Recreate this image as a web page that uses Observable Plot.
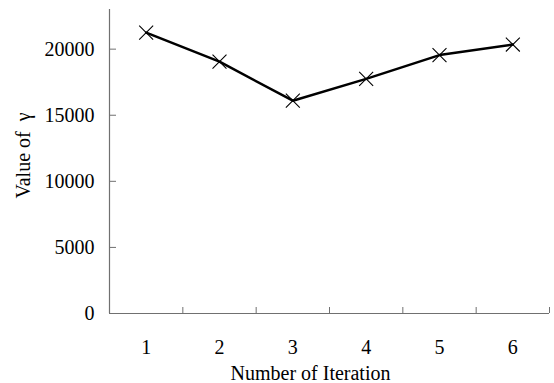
<!DOCTYPE html>
<html>
<head>
<meta charset="utf-8">
<script src="https://cdn.jsdelivr.net/npm/d3@7"></script>
<script src="https://cdn.jsdelivr.net/npm/@observablehq/plot@0.6"></script>
<style>
  html, body { margin: 0; padding: 0; background: #fff; }
  #chart svg { display: block; }
</style>
</head>
<body>
<div id="chart"></div>
<script>
const iterations = [1, 2, 3, 4, 5, 6];
const gammaValues = [21250, 19050, 16100, 17750, 19550, 20350];
const yTicks = [0, 5000, 10000, 15000, 20000];
const xBoundaries = [1.5, 2.5, 3.5, 4.5, 5.5, 6.5];
const xLabel = "Number of Iteration";
const yLabel = "Value of\u00a0\u00a0γ";

const data = iterations.map((it, i) => ({it, v: gammaValues[i]}));
const axisColor = "#707070";
const fs = 20;

const chart = Plot.plot({
  width: 554,
  height: 383,
  marginLeft: 109,
  marginRight: 5,
  marginTop: 9,
  marginBottom: 70,
  style: {fontFamily: "'Liberation Serif', 'Times New Roman', serif", fontSize: fs + "px", color: "#000", background: "#fff"},
  x: {type: "linear", domain: [0.5, 6.5], axis: null},
  y: {domain: [0, 23000], axis: null},
  marks: [
    // axis lines
    Plot.ruleY([0], {stroke: axisColor, strokeWidth: 1.2}),
    Plot.ruleX([0.5], {y1: 0, y2: 23000, stroke: axisColor, strokeWidth: 1.2}),
    // x boundary ticks (inward)
    Plot.axisX({ticks: xBoundaries, tickSize: 6, dy: -6, text: null, label: null, stroke: axisColor}),
    // x tick labels
    Plot.axisX({ticks: iterations, tickSize: 0, tickPadding: 26, tickFormat: d => String(d), label: null, fontSize: fs}),
    // y ticks (inward)
    Plot.axisY({ticks: yTicks, tickSize: 7, dx: 7, text: null, label: null, stroke: axisColor}),
    Plot.ruleY([0], {x1: 0.5, x2: 0.5, stroke: "#000"}),
    // y tick labels
    Plot.axisY({ticks: yTicks, tickSize: 0, tickPadding: 15, tickFormat: d => String(d), label: null, fontSize: fs}),
    // axis titles
    Plot.text([xLabel], {frameAnchor: "bottom", dx: -19, dy: 60, fontSize: fs, lineAnchor: "middle", fill: "#000"}),
    Plot.text([yLabel], {frameAnchor: "left", dx: -86, dy: -6, rotate: -90, fontSize: fs, textAnchor: "middle", lineAnchor: "middle", fill: "#000"}),
    // data
    Plot.line(data, {x: "it", y: "v", stroke: "#000", strokeWidth: 2.5}),
    Plot.dot(data, {x: "it", y: "v", symbol: "times", r: 6.4, stroke: "#000", strokeWidth: 1.1})
  ]
});
document.getElementById("chart").appendChild(chart);
</script>
</body>
</html>
